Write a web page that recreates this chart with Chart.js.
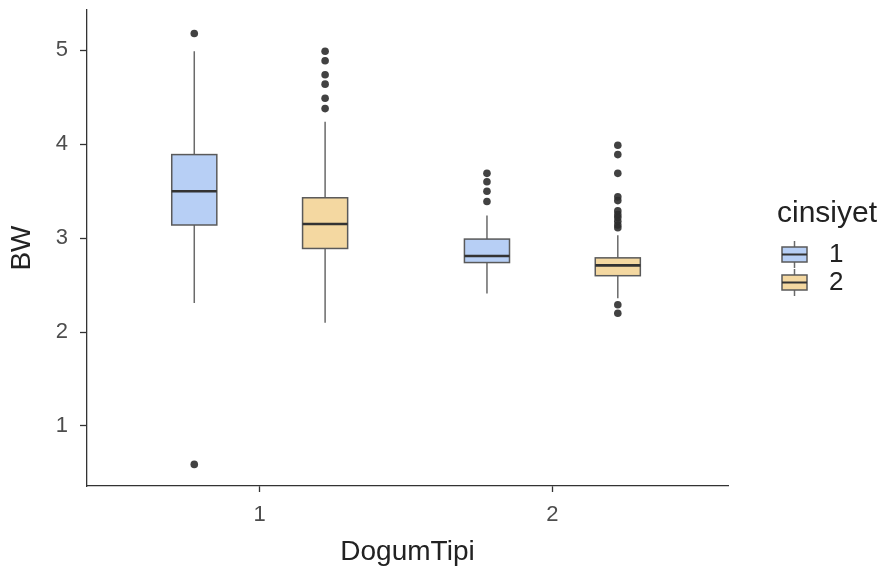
<!DOCTYPE html>
<html>
<head>
<meta charset="utf-8">
<script src="https://cdn.jsdelivr.net/npm/chart.js@4"></script>
<style>
  body { margin: 0; background: #fff; }
  canvas { display: block; }
</style>
</head>
<body>
<canvas id="chart" width="879" height="571"></canvas>
<script>
// DogumTipi gruplari ve y ekseni isaretleri
const groups = [1, 2];
const yTicks = [1, 2, 3, 4, 5];
const sexLabels = ['1', '2'];

// cinsiyet 1 (mavi) - her DogumTipi icin kutu istatistikleri
const low1 = [2.31, 2.41];
const q1_1 = [3.14, 2.74];
const med1 = [3.50, 2.81];
const q3_1 = [3.89, 2.99];
const high1 = [4.99, 3.24];
const out1 = [[5.18, 0.59], [3.69, 3.60, 3.50, 3.39]];

// cinsiyet 2 (turuncu)
const low2 = [2.10, 2.36];
const q1_2 = [2.89, 2.60];
const med2 = [3.15, 2.71];
const q3_2 = [3.43, 2.79];
const high2 = [4.24, 3.03];
const out2 = [[4.99, 4.89, 4.74, 4.64, 4.49, 4.38],
              [3.99, 3.89, 3.69, 3.44, 3.40, 3.29, 3.25, 3.22, 3.18, 3.14, 3.11, 2.29, 2.20]];

const fills = ['#b7cff5', '#f4d8a1'];
const dodge = [-0.2235, 0.2235];
const boxHalf = 0.077;

const series = [
  { low: low1, q1: q1_1, med: med1, q3: q3_1, high: high1, out: out1 },
  { low: low2, q1: q1_2, med: med2, q3: q3_2, high: high2, out: out2 }
];

// aykiri degerler icin nokta listesi
const outlierPoints = [];
series.forEach((s, si) => {
  groups.forEach((g, gi) => {
    s.out[gi].forEach(v => outlierPoints.push({ x: g + dodge[si], y: v }));
  });
});

// kutulari olceklerden cizen eklenti
const boxPlugin = {
  id: 'boxes',
  beforeDatasetsDraw(chart) {
    const { ctx } = chart;
    const x = chart.scales.x, y = chart.scales.y;
    series.forEach((s, si) => {
      groups.forEach((g, gi) => {
        const cx = x.getPixelForValue(g + dodge[si]);
        const hw = x.getPixelForValue(g + dodge[si] + boxHalf) - cx;
        const yLow = y.getPixelForValue(s.low[gi]);
        const yQ1 = y.getPixelForValue(s.q1[gi]);
        const yMed = y.getPixelForValue(s.med[gi]);
        const yQ3 = y.getPixelForValue(s.q3[gi]);
        const yHigh = y.getPixelForValue(s.high[gi]);
        ctx.save();
        ctx.strokeStyle = '#6a6a6a';
        ctx.lineWidth = 1.5;
        ctx.beginPath();
        ctx.moveTo(cx, yHigh); ctx.lineTo(cx, yQ3);
        ctx.moveTo(cx, yQ1); ctx.lineTo(cx, yLow);
        ctx.stroke();
        ctx.fillStyle = fills[si];
        ctx.fillRect(cx - hw, yQ3, hw * 2, yQ1 - yQ3);
        ctx.strokeStyle = '#5a5a5a';
        ctx.lineWidth = 1.5;
        ctx.strokeRect(cx - hw, yQ3, hw * 2, yQ1 - yQ3);
        ctx.strokeStyle = '#333';
        ctx.lineWidth = 2.6;
        ctx.beginPath();
        ctx.moveTo(cx - hw, yMed); ctx.lineTo(cx + hw, yMed);
        ctx.stroke();
        ctx.restore();
      });
    });
  },
  afterDraw(chart) {
    const { ctx } = chart;
    ctx.save();
    ctx.fillStyle = '#222';
    ctx.font = '30px "Liberation Sans", Arial, sans-serif';
    ctx.textBaseline = 'alphabetic';
    ctx.fillText('cinsiyet', 777, 222);
    sexLabels.forEach((lab, i) => {
      const top = 247 + i * 28;
      const cx = 794.5;
      ctx.strokeStyle = '#6a6a6a';
      ctx.lineWidth = 1.5;
      ctx.beginPath();
      ctx.moveTo(cx, top - 6); ctx.lineTo(cx, top + 21);
      ctx.stroke();
      ctx.fillStyle = fills[i];
      ctx.fillRect(782, top, 25, 15);
      ctx.strokeStyle = '#5a5a5a';
      ctx.strokeRect(782, top, 25, 15);
      ctx.strokeStyle = '#333';
      ctx.lineWidth = 2;
      ctx.beginPath();
      ctx.moveTo(782, top + 7.5); ctx.lineTo(807, top + 7.5);
      ctx.stroke();
      ctx.fillStyle = '#222';
      ctx.font = '26px "Liberation Sans", Arial, sans-serif';
      ctx.textBaseline = 'middle';
      ctx.fillText(lab, 829, top + 8);
    });
    ctx.restore();
  }
};

new Chart(document.getElementById('chart').getContext('2d'), {
  type: 'scatter',
  data: {
    datasets: [{
      label: 'outliers',
      data: outlierPoints,
      pointRadius: 3.8,
      pointHoverRadius: 3.8,
      pointBackgroundColor: 'rgba(45,45,45,0.9)',
      pointBorderWidth: 0
    }]
  },
  plugins: [boxPlugin],
  options: {
    responsive: false,
    animation: false,
    layout: { padding: { top: 10, right: 151, left: 0, bottom: 0 } },
    plugins: { legend: { display: false }, tooltip: { enabled: false } },
    scales: {
      x: {
        type: 'linear',
        min: 0.41,
        max: 2.6,
        afterBuildTicks: scale => { scale.ticks = groups.map(v => ({ value: v })); },
        afterFit: scale => { scale.height = 85; scale.paddingLeft = 0; scale.paddingRight = 0; },
        ticks: {
          color: '#4d4d4d',
          font: { family: '"Liberation Sans", Arial, sans-serif', size: 22 },
          padding: 10,
          callback: v => String(v)
        },
        grid: { drawOnChartArea: false, tickLength: 6, tickColor: '#333', tickWidth: 1.3 },
        border: { display: true, color: '#333', width: 1.3 },
        title: {
          display: true,
          text: 'DogumTipi',
          color: '#222',
          font: { family: '"Liberation Sans", Arial, sans-serif', size: 28 },
          padding: { top: 0, bottom: 2 }
        }
      },
      y: {
        min: 0.36,
        max: 5.43,
        afterBuildTicks: scale => { scale.ticks = yTicks.map(v => ({ value: v })); },
        afterFit: scale => { scale.width = 87; scale.paddingTop = 0; scale.paddingBottom = 0; },
        ticks: {
          color: '#4d4d4d',
          font: { family: '"Liberation Sans", Arial, sans-serif', size: 22 },
          padding: 12,
          callback: v => String(v)
        },
        grid: { drawOnChartArea: false, tickLength: 7, tickColor: '#333', tickWidth: 1.3 },
        border: { display: true, color: '#333', width: 1.3 },
        title: {
          display: true,
          text: 'BW',
          color: '#222',
          font: { family: '"Liberation Sans", Arial, sans-serif', size: 28 },
          padding: { top: 5, bottom: 0 }
        }
      }
    }
  }
});
</script>
</body>
</html>
